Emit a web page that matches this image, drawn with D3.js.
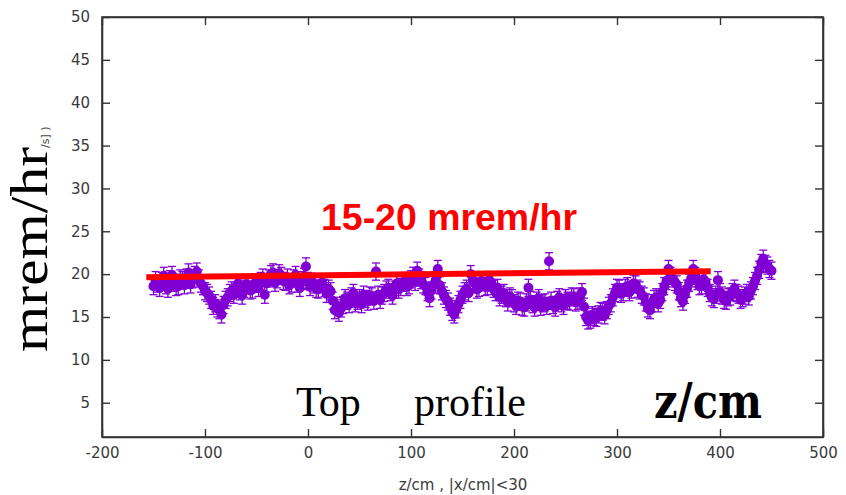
<!DOCTYPE html>
<html>
<head>
<meta charset="utf-8">
<script src="https://cdn.jsdelivr.net/npm/d3@7"></script>
<style>
  html, body { margin: 0; padding: 0; background: #fff; }
  svg { display: block; }
</style>
</head>
<body>
<svg id="chart" width="846" height="495"></svg>
<script>
// ---- data ----
const zStart = -150, zStep = 2;
const doseValues = [
  18.6,19.3,18.9,18.4,19.2,19.8,18.7,18.3,19.4,19.9,19.0,18.5,18.6,19.5,19.3,18.7,19.6,20.2,18.8,19.4,
  19.9,20.3,19.5,18.9,18.6,18.0,17.8,17.5,17.0,16.3,16.6,16.0,15.8,15.3,16.4,17.0,17.3,17.8,18.1,17.6,
  18.5,18.9,18.0,17.5,18.3,18.8,18.7,18.1,18.2,18.9,18.9,18.4,19.2,19.6,17.6,18.9,19.5,20.0,20.2,19.0,
  19.4,20.1,19.8,19.2,19.1,19.6,18.7,18.9,19.5,19.9,18.9,18.4,19.3,19.7,20.9,19.2,18.5,19.1,18.8,18.3,
  18.2,18.9,19.0,18.4,17.7,18.3,18.0,16.9,15.8,16.3,15.5,16.0,16.4,17.2,16.9,16.5,17.4,17.8,16.6,16.9,
  17.2,16.5,17.6,17.1,16.8,17.5,17.4,16.9,20.3,17.6,17.0,17.5,17.8,18.2,18.4,17.9,17.5,18.2,18.9,18.2,
  18.5,19.0,19.2,18.5,18.7,19.4,19.8,19.1,20.4,19.6,19.3,18.8,18.6,17.9,17.2,18.1,18.8,19.3,20.6,18.7,
  18.0,17.5,17.1,16.8,16.2,15.6,15.3,15.9,16.5,17.0,17.6,18.0,18.3,17.8,20.0,19.3,18.9,18.2,18.4,19.2,
  19.1,18.5,18.6,19.3,19.0,18.3,17.9,18.4,17.3,17.6,17.8,17.2,16.7,17.4,17.2,16.6,16.3,16.9,16.8,16.2,
  16.1,16.7,18.4,17.0,16.5,16.1,16.9,17.2,16.2,16.6,16.7,16.3,21.5,16.9,16.4,16.1,17.0,17.3,16.6,16.3,
  17.2,16.9,16.8,17.4,17.3,16.7,16.9,17.4,17.9,16.2,15.0,14.6,14.7,15.2,15.0,14.9,15.3,15.7,15.6,15.2,
  15.8,16.3,16.6,17.3,17.8,18.4,18.3,17.7,17.9,18.4,18.6,17.9,18.2,18.9,18.8,18.3,18.1,17.6,17.4,16.7,
  16.0,15.8,16.6,17.1,17.3,16.6,17.0,17.9,18.6,19.2,20.6,19.8,19.5,19.1,18.8,18.0,17.2,16.8,17.6,18.3,
  19.0,19.5,20.6,19.8,19.2,18.6,18.7,19.4,19.1,18.4,17.8,17.3,17.1,17.6,19.3,17.9,17.5,17.0,16.9,17.3,
  17.4,17.9,18.3,17.8,17.6,17.0,17.2,17.5,17.8,17.4,18.1,18.6,19.2,19.8,20.5,21.3,21.8,21.2,21.0,20.6,
  20.4
];
const doseError = 1.0;
const fitZ = [-157, 391];
const fitValues = [19.65, 20.35];
const xTicks = [-200, -100, 0, 100, 200, 300, 400, 500];
const yTicks = [5, 10, 15, 20, 25, 30, 35, 40, 45, 50];

const points = doseValues.map((v, i) => ({ z: zStart + i * zStep, v }));

// ---- layout ----
const svg = d3.select("#chart");
const L = 102, R = 823, T = 17, B = 437;
const x = d3.scaleLinear().domain([-200, 500]).range([L, R]);
const y = d3.scaleLinear().domain([1, 50]).range([B, T]);

const purple = "#8000d4";

// error bars
const eb = svg.append("g").attr("stroke", purple).attr("stroke-width", 1.3);
points.forEach(p => {
  const xp = x(p.z);
  eb.append("line").attr("x1", xp).attr("x2", xp)
    .attr("y1", y(p.v - doseError)).attr("y2", y(p.v + doseError));
  eb.append("line").attr("x1", xp - 4).attr("x2", xp + 4)
    .attr("y1", y(p.v - doseError)).attr("y2", y(p.v - doseError));
  eb.append("line").attr("x1", xp - 4).attr("x2", xp + 4)
    .attr("y1", y(p.v + doseError)).attr("y2", y(p.v + doseError));
});

// points
svg.append("g").selectAll("circle").data(points).join("circle")
  .attr("cx", d => x(d.z)).attr("cy", d => y(d.v)).attr("r", 5)
  .attr("fill", purple);

// fit line
svg.append("line")
  .attr("x1", x(fitZ[0])).attr("y1", y(fitValues[0]))
  .attr("x2", x(fitZ[1])).attr("y2", y(fitValues[1]))
  .attr("stroke", "#ff0000").attr("stroke-width", 6);

// axes
const tickFont = "DejaVu Sans, sans-serif";
const fmt = d => String(d);
function styleAxis(g) {
  g.select(".domain").attr("stroke", "#333").attr("stroke-width", 1.6);
  g.selectAll(".tick line").attr("stroke", "#333").attr("stroke-width", 1.4);
  g.selectAll(".tick text").attr("fill", "#3a3a3a").attr("font-family", tickFont).attr("font-size", 15);
}
svg.append("g").attr("transform", `translate(0,${B})`)
  .call(d3.axisBottom(x).tickValues(xTicks).tickFormat(fmt).tickSizeInner(-8).tickSizeOuter(0).tickPadding(10))
  .call(styleAxis);
svg.append("g").attr("transform", `translate(0,${T})`)
  .call(d3.axisTop(x).tickValues(xTicks).tickSizeInner(-8).tickSizeOuter(0).tickFormat(""))
  .call(styleAxis);
svg.append("g").attr("transform", `translate(${L},0)`)
  .call(d3.axisLeft(y).tickValues(yTicks).tickFormat(fmt).tickSizeInner(-8).tickSizeOuter(0).tickPadding(12))
  .call(styleAxis);
svg.append("g").attr("transform", `translate(${R},0)`)
  .call(d3.axisRight(y).tickValues(yTicks).tickSizeInner(-8).tickSizeOuter(0).tickFormat(""))
  .call(styleAxis);
svg.append("rect").attr("x", L).attr("y", T).attr("width", R - L).attr("height", B - T)
  .attr("fill", "none").attr("stroke", "#333").attr("stroke-width", 1.6);

// x axis title
svg.append("text").attr("x", 463).attr("y", 490).attr("text-anchor", "middle")
  .attr("font-family", tickFont).attr("font-size", 15).attr("fill", "#3a3a3a")
  .text("z/cm , |x/cm|<30");

// big y label
svg.append("text").attr("transform", "translate(47,352) rotate(-90)")
  .attr("font-family", "Liberation Serif, serif").attr("font-size", 52).attr("fill", "#000")
  .attr("textLength", 205).attr("lengthAdjust", "spacingAndGlyphs")
  .text("mrem/hr");
svg.append("text").attr("transform", "translate(49,148) rotate(-90)")
  .attr("font-family", tickFont).attr("font-size", 11).attr("fill", "#444")
  .text("/s] )");

// annotations
svg.append("text").attr("x", 321).attr("y", 230)
  .attr("font-family", "Liberation Sans, Arial, sans-serif").attr("font-weight", "bold")
  .attr("font-size", 37).attr("fill", "#ff0000")
  .attr("textLength", 256).attr("lengthAdjust", "spacingAndGlyphs")
  .text("15-20 mrem/hr");
svg.append("text").attr("x", 296).attr("y", 416)
  .attr("font-family", "Liberation Serif, serif").attr("font-size", 42).attr("fill", "#000")
  .text("Top");
svg.append("text").attr("x", 414).attr("y", 416)
  .attr("font-family", "Liberation Serif, serif").attr("font-size", 42).attr("fill", "#000")
  .text("profile");
svg.append("text").attr("x", 654).attr("y", 418)
  .attr("font-family", "DejaVu Serif, serif").attr("font-weight", "bold")
  .attr("font-size", 48).attr("fill", "#000")
  .attr("textLength", 108).attr("lengthAdjust", "spacingAndGlyphs")
  .text("z/cm");
</script>
</body>
</html>
